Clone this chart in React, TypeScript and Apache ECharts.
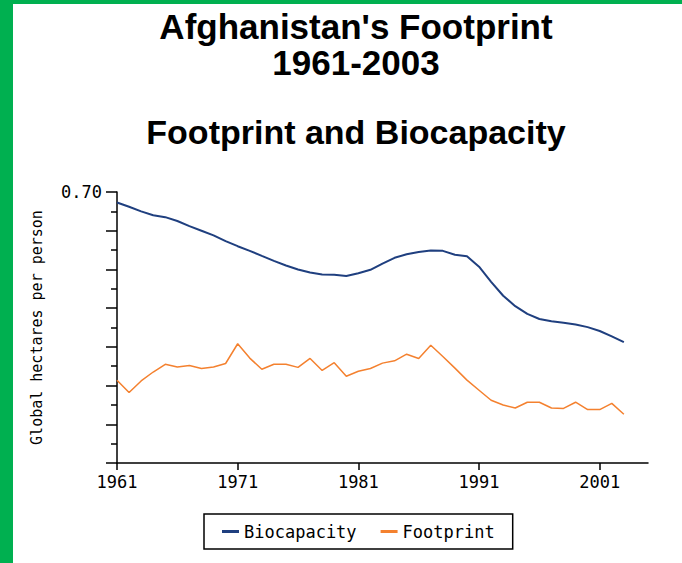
import { useEffect, useRef } from "react";
import * as echarts from "echarts";

const years = [
  1961, 1962, 1963, 1964, 1965, 1966, 1967, 1968, 1969, 1970,
  1971, 1972, 1973, 1974, 1975, 1976, 1977, 1978, 1979, 1980,
  1981, 1982, 1983, 1984, 1985, 1986, 1987, 1988, 1989, 1990,
  1991, 1992, 1993, 1994, 1995, 1996, 1997, 1998, 1999, 2000,
  2001, 2002, 2003,
];

const biocapacity = [
  0.673, 0.662, 0.65, 0.64, 0.635, 0.625, 0.612, 0.6, 0.588, 0.573,
  0.56, 0.548, 0.535, 0.522, 0.51, 0.5, 0.492, 0.487, 0.486, 0.483,
  0.49, 0.499, 0.515, 0.53, 0.539, 0.545, 0.549, 0.548, 0.538, 0.534,
  0.507, 0.468, 0.432, 0.405, 0.385, 0.372, 0.366, 0.362, 0.358, 0.351,
  0.341, 0.327, 0.312,
];

const footprint = [
  0.214, 0.182, 0.212, 0.235, 0.255, 0.248, 0.252, 0.244, 0.248, 0.257,
  0.308, 0.271, 0.242, 0.255, 0.255, 0.247, 0.27, 0.239, 0.259, 0.224,
  0.237, 0.244, 0.258, 0.264, 0.281, 0.27, 0.304, 0.275, 0.245, 0.214,
  0.188, 0.162, 0.15, 0.142, 0.157, 0.157, 0.142, 0.141, 0.157, 0.138,
  0.138, 0.154, 0.126,
];

const xTickYears = [1961, 1971, 1981, 1991, 2001];
const yLabelValues = [0.7];

const titleLines = ["Afghanistan's Footprint", "1961-2003"];
const subtitle = "Footprint and Biocapacity";
const yAxisName = "Global hectares per person";
const seriesNames = ["Biocapacity", "Footprint"];

const MONO = "DejaVu Sans Mono";
const SANS = "Liberation Sans";

export default function App() {
  const ref = useRef<HTMLDivElement>(null);

  useEffect(() => {
    const chart = echarts.init(ref.current!, null, { renderer: "svg" });
    const axisLine = { show: true, lineStyle: { color: "#000", width: 1.5 } };
    chart.setOption({
      animation: false,
      backgroundColor: "#fff",
      textStyle: { fontFamily: MONO },
      graphic: [
        { type: "rect", shape: { x: 0, y: 0, width: 13, height: 563 }, style: { fill: "#00b050" } },
        { type: "rect", shape: { x: 0, y: 0, width: 682, height: 4 }, style: { fill: "#00b050" } },
        {
          type: "text", x: 356, y: 26,
          style: { text: titleLines[0], fontSize: 35, fontWeight: "bold", fontFamily: SANS, align: "center", verticalAlign: "middle", fill: "#000" },
        },
        {
          type: "text", x: 356, y: 62,
          style: { text: titleLines[1], fontSize: 35, fontWeight: "bold", fontFamily: SANS, align: "center", verticalAlign: "middle", fill: "#000" },
        },
        {
          type: "text", x: 356, y: 132,
          style: { text: subtitle, fontSize: 34, fontWeight: "bold", fontFamily: SANS, align: "center", verticalAlign: "middle", fill: "#000" },
        },
      ],
      grid: { left: 117, right: 34, top: 192, bottom: 100 },
      legend: {
        data: seriesNames,
        left: 204,
        top: 514,
        icon: "rect",
        itemWidth: 17,
        itemHeight: 3,
        itemGap: 24,
        padding: [9, 18],
        borderColor: "#000",
        borderWidth: 1.5,
        textStyle: { fontFamily: MONO, fontSize: 17, color: "#000" },
      },
      xAxis: {
        type: "value",
        min: 1961,
        max: 2005,
        axisLine,
        axisTick: { show: true, customValues: xTickYears, length: 7, lineStyle: { color: "#000", width: 1.5 } },
        axisLabel: {
          customValues: xTickYears,
          formatter: (v: number) => String(v),
          color: "#000",
          fontSize: 17,
          fontFamily: MONO,
          margin: 10,
        },
        splitLine: { show: false },
      },
      yAxis: {
        type: "value",
        min: 0,
        max: 0.7,
        interval: 0.1,
        name: yAxisName,
        nameLocation: "middle",
        nameGap: 73,
        nameTextStyle: { fontFamily: MONO, fontSize: 15, color: "#000" },
        axisLine,
        axisTick: { show: true, length: 11, lineStyle: { color: "#000", width: 1.5 } },
        minorTick: { show: true, splitNumber: 2, length: 6, lineStyle: { color: "#000", width: 1.5 } },
        axisLabel: {
          customValues: yLabelValues,
          formatter: (v: number) => v.toFixed(2),
          color: "#000",
          fontSize: 17,
          fontFamily: MONO,
          margin: 15,
        },
        splitLine: { show: false },
        minorSplitLine: { show: false },
      },
      series: [
        {
          name: seriesNames[0],
          type: "line",
          data: years.map((y, i) => [y, biocapacity[i]]),
          showSymbol: false,
          symbol: "none",
          lineStyle: { color: "#1f3f7f", width: 2 },
          itemStyle: { color: "#1f3f7f" },
        },
        {
          name: seriesNames[1],
          type: "line",
          data: years.map((y, i) => [y, footprint[i]]),
          showSymbol: false,
          symbol: "none",
          lineStyle: { color: "#f4812f", width: 1.5 },
          itemStyle: { color: "#f4812f" },
        },
      ],
    });
    return () => chart.dispose();
  }, []);

  return (
    <div
      ref={ref}
      style={{ position: "absolute", left: 0, top: 0, width: 682, height: 563 }}
    />
  );
}
